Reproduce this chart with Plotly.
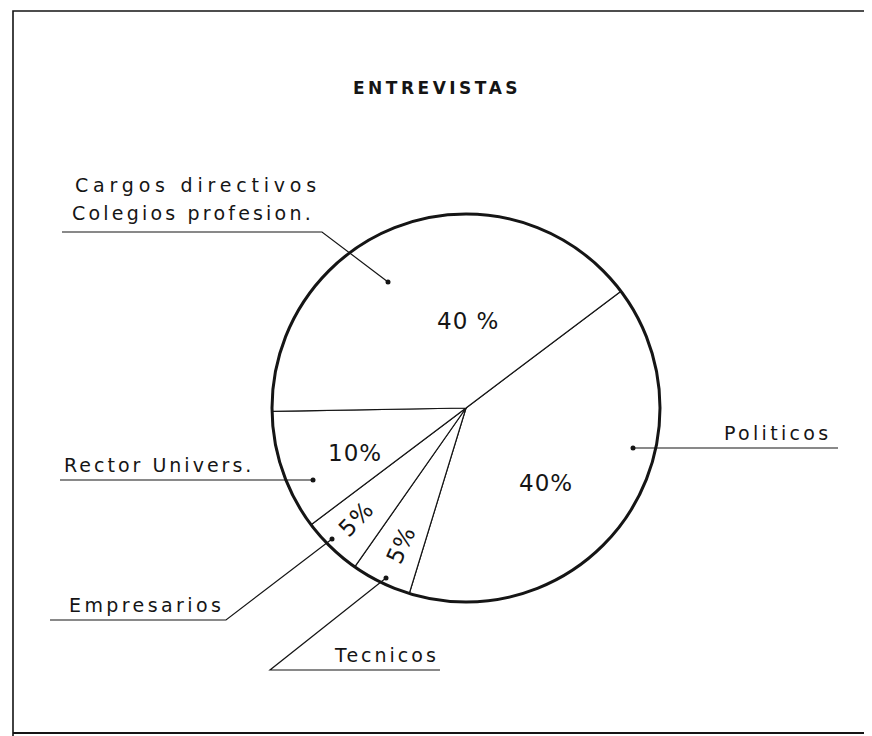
import plotly.graph_objects as go

W, H = 856, 728
OFF = 8  # the page body adds an 8px margin

# data: clockwise from the upper-right radius
groups = ["Politicos", "Tecnicos", "Empresarios", "Rector Univers.", "Cargos directivos Colegios profesion."]
shares = [40, 5, 5, 10, 40]
pct_labels = ["40%", "5%", "5%", "10%", "40 %"]

FONT = "DejaVu Sans"
INK = "#151515"


def px(x, y):
    # screen pixel -> paper coords
    return (x - OFF) / W, 1 - (y - OFF) / H


def spaced(s, sp):
    return f'<span style="letter-spacing:{sp}px">{s}</span>'


x0, y1 = px(272, 214)
x1, y0 = px(660, 602)

fig = go.Figure()
fig.add_trace(go.Pie(
    labels=groups, values=shares, sort=False, direction="clockwise", rotation=53,
    textinfo="none",
    marker=dict(colors=["white"] * 5, line=dict(color=INK, width=1.2)),
    domain=dict(x=[x0, x1], y=[y0, y1]), showlegend=False, hoverinfo="label+percent",
))

shapes = []
# heavy outer ring of the pie
shapes.append(dict(type="circle", xref="paper", yref="paper", x0=x0, x1=x1, y0=y0, y1=y1,
                   line=dict(color=INK, width=3)))


def poly(points, width=1.2):
    d = "M " + " L ".join(f"{px(x, y)[0]:.5f},{px(x, y)[1]:.5f}" for x, y in points)
    shapes.append(dict(type="path", xref="paper", yref="paper", path=d,
                       line=dict(color=INK, width=width)))


def dot(x, y, r=2.5):
    a0, b1 = px(x - r, y - r)
    a1, b0 = px(x + r, y + r)
    shapes.append(dict(type="circle", xref="paper", yref="paper", x0=a0, x1=a1, y0=b0, y1=b1,
                       fillcolor=INK, line=dict(color=INK, width=0)))


# frame
poly([(13, 740), (13, 11), (880, 11)], 1.6)
poly([(13, 733), (880, 733)], 1.8)

# leader lines
poly([(62, 232), (322, 232), (388, 282)])
dot(388, 282)
poly([(633, 448), (838, 448)])
dot(633, 448)
poly([(60, 480), (313, 480)])
dot(313, 480)
poly([(50, 620), (226, 620), (332, 539)])
dot(332, 539)
poly([(440, 670), (270, 670), (386, 578)])
dot(386, 578)

annotations = []


def label(s, x, y, size=19, sp=4, anchor="left", bold=False, angle=0):
    ax, ay = px(x, y)
    txt = spaced(f"<b>{s}</b>" if bold else s, sp)
    annotations.append(dict(text=txt, x=ax, y=ay, xref="paper", yref="paper",
                            xanchor=anchor, yanchor="middle", showarrow=False,
                            textangle=angle,
                            font=dict(family=FONT, size=size, color=INK)))


label("ENTREVISTAS", 437, 88, size=17, sp=3.5, anchor="center", bold=True)
label("Cargos directivos", 73, 185, sp=4.8)
label("Colegios profesion.", 70, 213, sp=3.2)
label("Politicos", 722, 433, sp=3.3)
label("Rector Univers.", 62, 465, sp=3)
label("Empresarios", 67, 605, sp=3.4)
label("Tecnicos", 332, 655, sp=3)

# slice percentages
pct_pos = [(546, 483, 0), (401, 545, -65), (356, 519, -46), (355, 453, 0), (468, 321, 0)]
for t, (x, y, a) in zip(pct_labels, pct_pos):
    label(t, x, y, size=23, sp=1, anchor="center", angle=a)

fig.update_layout(
    width=W, height=H,
    margin=dict(l=0, r=0, t=0, b=0),
    paper_bgcolor="white", plot_bgcolor="white",
    shapes=shapes, annotations=annotations,
    showlegend=False,
)

fig.write_html("out.html")
